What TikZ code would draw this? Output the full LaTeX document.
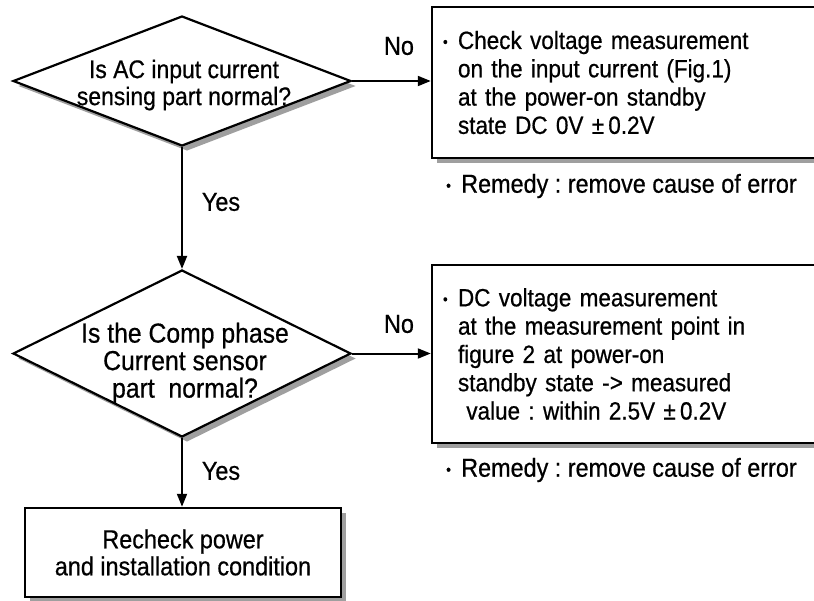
\documentclass[tikz,border=0pt]{standalone}
\usepackage{fontspec}
\setmainfont{Liberation Sans}[FakeStretch=0.9,FakeBold=0.6]
\usetikzlibrary{shapes.geometric,shadows,arrows.meta}
\frenchspacing
\newcommand{\bul}{\makebox[15pt][l]{\raisebox{2pt}{\fontsize{15}{15}\selectfont •}}}
\newcommand{\ind}{\hspace*{15pt}}
\tikzset{
  shad/.style={drop shadow={shadow xshift=5pt,shadow yshift=-5pt,fill=gray!75,opacity=1}},
  decision/.style={diamond,draw=black,line width=2.2pt,fill=white,inner sep=0pt,shad},
  infobox/.style={rectangle,draw=black,line width=2.5pt,fill=white,shad,align=left,inner xsep=11pt,
     font=\fontsize{25}{28.3}\selectfont},
  endbox/.style={rectangle,draw=black,line width=2.5pt,fill=white,shad,align=center,
     font=\fontsize{26}{27}\selectfont},
  lbl/.style={font=\fontsize{26}{30}\selectfont,inner sep=0pt},
  qtext/.style={align=center,inner sep=0pt},
  remedy/.style={anchor=west,inner sep=0pt,font=\fontsize{26}{28}\selectfont},
  arr/.style={line width=2pt,-{Triangle[length=13pt,width=10pt]}}
}
\begin{document}
\begin{tikzpicture}[x=1pt,y=-1pt]
\useasboundingbox (0,0) rectangle (814,600);
% decisions
\node[decision,minimum width=338pt,minimum height=130pt] (d1) at (182,81) {};
\node[qtext,font=\fontsize{25.5}{27}\selectfont] (q1) at (184,85) {Is AC input current\\sensing part normal?};
\node[decision,minimum width=338pt,minimum height=167pt] (d2) at (182,353.5) {};
\node[qtext,font=\fontsize{27.5}{27.5}\selectfont] (q2) at (185,363) {Is the Comp phase\\Current sensor\\part\ \ normal?};
% boxes
\node[infobox,minimum width=398pt,minimum height=151pt,text width=376pt] (b1) at (631,82.5)
 {\bul Check voltage measurement\\
  \ind on the input current (Fig.1)\\
  \ind at the power-on standby\\
  \ind state DC 0V ±\,0.2V};
\node[infobox,minimum width=398pt,minimum height=178pt,text width=376pt] (b2) at (631,354)
 {\bul DC voltage measurement\\
  \ind at the measurement point in\\
  \ind figure 2 at power-on\\
  \ind standby state -> measured\\
  \ind\ value : within 2.5V ±\,0.2V};
\node[endbox,minimum width=316pt,minimum height=89pt] (b3) at (183,552.5)
 {Recheck power\\and installation condition};
% remedies
\node[remedy] (r1) at (446,186) {\bul Remedy : remove cause of error};
\node[remedy] (r2) at (446,470) {\bul Remedy : remove cause of error};
% connectors
\draw[arr] (d1.east) -- (d1.east -| b1.west);
\draw[arr] (d2.east) -- (d2.east -| b2.west);
\draw[arr] (d1.south) -- (d2.north);
\draw[arr] (d2.south) -- (d2.south |- b3.north);
% labels
\node[lbl] (n1) at (399,46) {No};
\node[lbl] (n2) at (399,324) {No};
\node[lbl] (y1) at (221,202) {Yes};
\node[lbl] (y2) at (221,471) {Yes};
\end{tikzpicture}
\end{document}
